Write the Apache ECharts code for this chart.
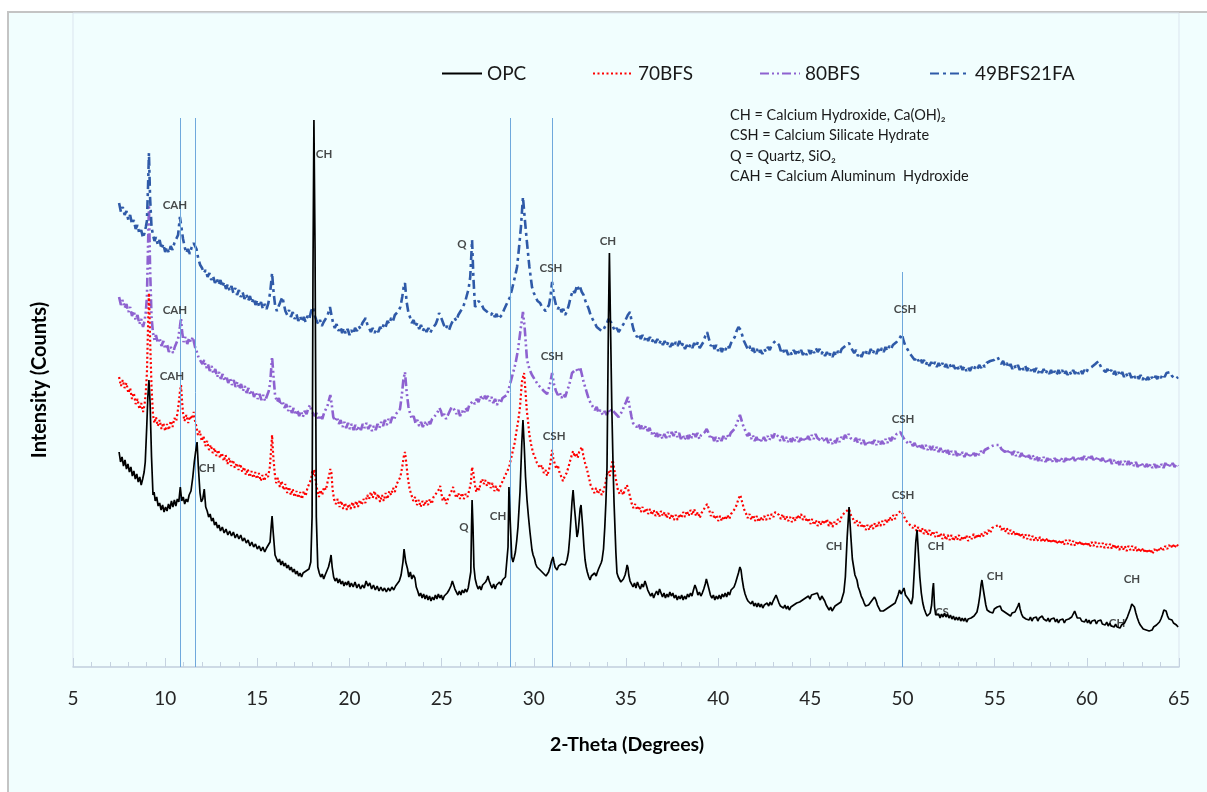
<!DOCTYPE html>
<html>
<head>
<meta charset="utf-8">
<script src="https://cdn.jsdelivr.net/npm/echarts@6/dist/echarts.min.js"></script>
<style>
html,body{margin:0;padding:0;background:#ffffff;}
#chart{width:1207px;height:792px;}
</style>
</head>
<body>
<div id="chart"></div>
<script>
// ---------- data: [2-theta (deg), intensity (arbitrary counts, offset stack)] ----------
const opcData = [
[7.50,215],[7.58,205],[7.66,210],[7.74,201],[7.82,207],[7.90,198],[7.98,203],[8.06,195],[8.14,200],[8.22,191],
[8.30,196],[8.38,188],[8.46,193],[8.54,185],[8.62,190],[8.70,182],[8.78,188],[8.86,195],[8.92,205],[9.00,240],
[9.06,270],[9.12,287],[9.18,265],[9.26,210],[9.34,172],[9.40,175],[9.46,166],[9.54,170],[9.62,161],[9.70,164],
[9.78,157],[9.86,162],[9.94,155],[10.02,160],[10.10,156],[10.18,163],[10.26,158],[10.34,166],[10.42,160],[10.50,167],
[10.58,161],[10.66,168],[10.74,165],[10.82,180],[10.90,166],[10.98,170],[11.06,163],[11.14,168],[11.22,165],[11.30,172],
[11.40,176],[11.50,190],[11.58,205],[11.65,215],[11.73,225],[11.80,200],[11.89,174],[11.96,165],[12.04,168],[12.12,178],
[12.20,160],[12.28,156],[12.36,150],[12.44,153],[12.52,146],[12.60,149],[12.68,142],[12.76,145],[12.84,139],[12.92,142],
[13.00,136],[13.10,140],[13.20,134],[13.30,138],[13.40,132],[13.50,136],[13.60,131],[13.70,135],[13.80,129],[13.90,133],
[14.00,128],[14.10,132],[14.20,126],[14.30,129],[14.40,124],[14.50,127],[14.60,121],[14.70,125],[14.80,120],[14.90,123],
[15.00,118],[15.10,121],[15.20,116],[15.30,120],[15.40,115],[15.50,119],[15.60,117],[15.69,125],[15.75,140],[15.80,151],
[15.86,135],[15.96,112],[16.04,110],[16.12,105],[16.20,108],[16.28,102],[16.36,106],[16.44,101],[16.52,104],[16.60,99],
[16.68,102],[16.76,97],[16.84,100],[16.92,95],[17.00,98],[17.08,93],[17.16,96],[17.24,91],[17.32,94],[17.40,90],
[17.48,94],[17.56,92],[17.64,96],[17.72,94],[17.80,98],[17.90,105],[17.97,150],[18.02,400],[18.07,547],[18.13,420],
[18.20,150],[18.28,100],[18.36,94],[18.44,90],[18.52,93],[18.60,88],[18.68,92],[18.76,94],[18.86,100],[18.94,106],
[19.00,112],[19.06,100],[19.14,90],[19.22,86],[19.30,89],[19.38,84],[19.46,88],[19.54,83],[19.62,86],[19.70,81],
[19.78,85],[19.86,82],[19.94,86],[20.02,80],[20.10,84],[20.20,80],[20.30,85],[20.40,79],[20.50,83],[20.60,78],
[20.70,82],[20.80,79],[20.90,86],[21.00,81],[21.10,84],[21.20,78],[21.30,82],[21.40,77],[21.50,81],[21.60,76],
[21.70,80],[21.80,76],[21.90,79],[22.00,75],[22.10,79],[22.20,76],[22.30,80],[22.40,77],[22.50,81],[22.60,80],
[22.70,86],[22.80,92],[22.90,105],[22.96,118],[23.05,105],[23.15,98],[23.22,90],[23.30,95],[23.38,88],[23.46,92],
[23.55,89],[23.62,80],[23.70,76],[23.78,71],[23.86,74],[23.94,69],[24.02,73],[24.10,68],[24.18,72],[24.26,67],
[24.34,71],[24.42,66],[24.50,70],[24.58,67],[24.66,72],[24.74,68],[24.82,73],[24.90,69],[24.98,72],[25.06,67],
[25.14,71],[25.22,69],[25.30,74],[25.40,77],[25.50,81],[25.58,86],[25.64,84],[25.72,78],[25.80,75],[25.88,72],
[25.96,76],[26.04,72],[26.12,77],[26.20,74],[26.28,78],[26.36,75],[26.44,79],[26.52,78],[26.58,95],[26.62,140],
[26.65,167],[26.70,140],[26.75,100],[26.82,88],[26.90,82],[26.98,78],[27.06,81],[27.14,77],[27.22,82],[27.30,80],
[27.38,85],[27.46,88],[27.51,91],[27.58,86],[27.66,82],[27.74,79],[27.82,83],[27.90,78],[27.98,82],[28.06,80],
[28.14,85],[28.22,82],[28.30,87],[28.38,85],[28.46,90],[28.54,92],[28.60,120],[28.65,180],[28.71,150],[28.80,110],
[28.87,105],[28.94,110],[29.00,115],[29.07,126],[29.14,140],[29.25,175],[29.35,225],[29.41,247],[29.47,225],[29.55,190],
[29.63,167],[29.71,150],[29.79,135],[29.90,117],[29.96,112],[30.04,108],[30.10,103],[30.17,100],[30.25,102],[30.34,97],
[30.42,99],[30.50,94],[30.58,96],[30.66,91],[30.72,90],[30.80,95],[30.88,100],[30.96,106],[31.04,110],[31.10,104],
[31.15,100],[31.20,98],[31.26,97],[31.34,101],[31.42,100],[31.50,103],[31.60,104],[31.70,102],[31.80,107],[31.88,115],
[31.95,130],[32.02,150],[32.07,165],[32.13,177],[32.20,160],[32.25,150],[32.34,130],[32.40,135],[32.45,145],[32.51,158],
[32.56,162],[32.61,150],[32.65,140],[32.72,120],[32.78,107],[32.84,100],[32.90,95],[32.98,90],[33.05,87],[33.12,91],
[33.20,90],[33.30,94],[33.38,91],[33.43,94],[33.51,98],[33.59,100],[33.65,104],[33.70,107],[33.78,118],[33.85,140],
[33.91,165],[33.97,200],[34.05,350],[34.10,414],[34.17,330],[34.23,260],[34.30,200],[34.35,165],[34.40,140],[34.45,115],
[34.51,94],[34.58,90],[34.65,88],[34.72,85],[34.78,84],[34.86,88],[34.95,92],[35.00,96],[35.06,102],[35.11,99],
[35.15,92],[35.22,86],[35.30,83],[35.38,80],[35.46,84],[35.54,79],[35.62,85],[35.70,81],[35.78,78],[35.86,83],
[35.94,80],[36.03,86],[36.10,82],[36.18,77],[36.26,74],[36.34,71],[36.42,74],[36.50,69],[36.58,73],[36.66,76],
[36.74,72],[36.82,78],[36.90,74],[36.98,70],[37.06,74],[37.14,69],[37.22,73],[37.30,70],[37.38,75],[37.46,71],
[37.54,74],[37.62,69],[37.70,72],[37.78,67],[37.86,71],[37.94,68],[38.02,72],[38.10,67],[38.18,71],[38.26,68],
[38.34,73],[38.42,70],[38.50,74],[38.58,71],[38.66,77],[38.74,82],[38.82,78],[38.90,72],[38.98,75],[39.06,71],
[39.14,74],[39.22,78],[39.30,83],[39.36,88],[39.42,86],[39.50,78],[39.58,72],[39.66,69],[39.74,72],[39.82,67],
[39.90,71],[39.98,68],[40.06,72],[40.14,68],[40.22,73],[40.30,70],[40.38,74],[40.46,70],[40.54,75],[40.62,72],
[40.70,77],[40.78,75],[40.86,80],[40.94,84],[41.02,89],[41.10,94],[41.18,100],[41.24,97],[41.30,88],[41.38,79],
[41.46,73],[41.54,69],[41.62,66],[41.70,68],[41.78,63],[41.86,66],[41.94,61],[42.02,64],[42.10,60],[42.18,64],
[42.26,60],[42.34,63],[42.42,59],[42.50,62],[42.58,60],[42.66,64],[42.74,61],[42.82,65],[42.90,62],[42.98,66],
[43.06,68],[43.14,72],[43.22,70],[43.30,64],[43.38,61],[43.46,63],[43.54,59],[43.62,62],[43.70,58],[43.78,61],
[43.86,57],[43.94,60],[44.02,58],[44.10,62],[44.18,60],[44.26,64],[44.34,62],[44.42,65],[44.50,63],[44.58,67],
[44.66,65],[44.74,69],[44.82,67],[44.90,71],[44.98,68],[45.06,72],[45.14,70],[45.22,73],[45.30,71],[45.38,74],
[45.46,70],[45.54,67],[45.62,71],[45.70,72],[45.78,66],[45.86,62],[45.94,60],[46.02,57],[46.10,60],[46.18,56],
[46.26,58],[46.34,61],[46.42,59],[46.50,63],[46.58,61],[46.66,65],[46.74,67],[46.82,75],[46.90,90],[47.00,130],
[47.10,160],[47.20,130],[47.28,108],[47.35,100],[47.42,92],[47.53,87],[47.60,80],[47.68,76],[47.76,71],[47.84,68],
[47.92,64],[48.00,61],[48.08,59],[48.16,62],[48.24,64],[48.32,66],[48.40,68],[48.48,70],[48.56,67],[48.64,62],
[48.72,59],[48.80,56],[48.88,54],[48.96,56],[49.04,54],[49.12,58],[49.20,57],[49.28,60],[49.36,59],[49.44,62],
[49.52,61],[49.60,64],[49.68,66],[49.76,72],[49.84,77],[49.92,73],[50.00,75],[50.08,79],[50.16,72],[50.24,70],
[50.32,68],[50.40,66],[50.48,63],[50.56,70],[50.65,100],[50.72,125],[50.79,137],[50.86,115],[50.94,90],[51.02,74],
[51.10,64],[51.18,58],[51.26,54],[51.34,51],[51.42,50],[51.50,54],[51.58,62],[51.64,78],[51.68,84],[51.74,60],
[51.80,52],[51.88,50],[51.96,53],[52.04,49],[52.12,53],[52.20,50],[52.28,54],[52.36,50],[52.44,53],[52.52,49],
[52.60,52],[52.68,48],[52.76,51],[52.84,47],[52.92,50],[53.00,47],[53.08,50],[53.16,46],[53.24,49],[53.32,46],
[53.40,49],[53.48,45],[53.56,48],[53.64,46],[53.72,49],[53.80,47],[53.88,51],[53.96,50],[54.04,55],[54.12,62],
[54.20,72],[54.26,82],[54.31,87],[54.38,78],[54.45,70],[54.52,62],[54.59,57],[54.66,59],[54.74,55],[54.82,57],
[54.90,54],[54.98,58],[55.06,56],[55.14,60],[55.22,58],[55.30,61],[55.38,57],[55.46,59],[55.54,55],[55.62,57],
[55.70,53],[55.78,55],[55.86,51],[55.94,54],[56.02,52],[56.10,55],[56.18,56],[56.26,61],[56.32,64],[56.38,58],
[56.46,53],[56.54,50],[56.62,52],[56.70,48],[56.78,50],[56.86,47],[56.94,50],[57.02,46],[57.10,49],[57.18,47],
[57.26,50],[57.34,46],[57.42,49],[57.50,47],[57.58,51],[57.66,48],[57.74,50],[57.82,46],[57.90,49],[57.98,45],
[58.06,48],[58.14,46],[58.22,49],[58.30,45],[58.38,48],[58.46,44],[58.54,47],[58.62,45],[58.70,48],[58.78,44],
[58.86,47],[58.94,45],[59.02,48],[59.10,46],[59.18,50],[59.26,53],[59.34,56],[59.40,54],[59.48,49],[59.56,47],
[59.64,49],[59.72,46],[59.80,48],[59.88,45],[59.96,48],[60.04,44],[60.12,47],[60.20,43],[60.28,46],[60.36,44],
[60.44,47],[60.52,43],[60.60,46],[60.68,44],[60.76,47],[60.84,43],[60.92,45],[61.00,42],[61.08,45],[61.16,41],
[61.24,44],[61.32,41],[61.40,43],[61.48,40],[61.56,43],[61.64,40],[61.72,42],[61.80,39],[61.88,42],[61.96,40],
[62.04,44],[62.12,46],[62.20,50],[62.28,54],[62.36,58],[62.44,63],[62.51,65],[62.58,60],[62.66,54],[62.74,49],
[62.82,45],[62.90,42],[62.98,40],[63.06,38],[63.14,40],[63.22,37],[63.30,39],[63.38,36],[63.46,38],[63.54,37],
[63.62,40],[63.70,39],[63.78,42],[63.86,41],[63.94,45],[64.02,48],[64.10,52],[64.18,57],[64.24,59],[64.30,56],
[64.38,51],[64.46,48],[64.54,46],[64.62,47],[64.70,44],[64.78,45],[64.86,42],[64.95,40]
];
const bfs70Data = [
[7.50,290],[7.60,281],[7.70,287],[7.80,279],[7.90,284],[8.00,274],[8.10,279],[8.20,268],[8.30,274],[8.40,263],
[8.50,268],[8.60,258],[8.70,264],[8.80,255],[8.88,262],[8.95,275],[9.01,294],[9.07,340],[9.12,374],[9.18,330],
[9.26,280],[9.34,252],[9.42,244],[9.50,250],[9.60,241],[9.70,247],[9.80,238],[9.90,244],[10.00,236],[10.10,243],
[10.20,237],[10.30,246],[10.40,240],[10.50,249],[10.60,246],[10.70,258],[10.80,275],[10.86,282],[10.92,265],[10.97,254],
[11.05,246],[11.15,252],[11.25,244],[11.35,251],[11.45,248],[11.55,255],[11.62,246],[11.70,240],[11.78,232],[11.88,236],
[11.98,226],[12.08,231],[12.18,221],[12.28,226],[12.38,217],[12.48,222],[12.58,214],[12.68,219],[12.78,211],[12.88,217],
[12.98,209],[13.08,214],[13.18,206],[13.28,212],[13.38,203],[13.48,209],[13.58,201],[13.68,207],[13.78,199],[13.88,204],
[13.98,197],[14.08,203],[14.18,195],[14.28,200],[14.38,192],[14.48,198],[14.58,190],[14.68,196],[14.78,189],[14.88,195],
[14.98,188],[15.08,194],[15.18,186],[15.28,192],[15.38,186],[15.48,193],[15.58,190],[15.68,200],[15.75,218],[15.80,232],
[15.86,212],[15.94,194],[16.02,184],[16.12,189],[16.22,180],[16.32,186],[16.42,177],[16.52,183],[16.62,174],[16.72,180],
[16.82,172],[16.92,178],[17.02,170],[17.12,176],[17.22,169],[17.32,175],[17.42,168],[17.52,176],[17.62,171],[17.72,179],
[17.82,178],[17.92,188],[17.98,196],[18.04,192],[18.10,198],[18.18,184],[18.26,176],[18.34,170],[18.42,177],[18.52,172],
[18.62,180],[18.72,177],[18.82,186],[18.90,192],[18.96,198],[19.02,194],[19.08,178],[19.16,168],[19.26,163],[19.36,168],
[19.46,160],[19.56,166],[19.66,158],[19.76,164],[19.86,157],[19.96,163],[20.06,158],[20.16,165],[20.26,159],[20.36,166],
[20.46,160],[20.56,167],[20.66,162],[20.76,168],[20.86,164],[20.96,172],[21.06,168],[21.16,175],[21.26,169],[21.36,176],
[21.46,168],[21.56,173],[21.66,165],[21.76,172],[21.86,166],[21.96,174],[22.06,168],[22.16,176],[22.26,172],[22.36,179],
[22.46,175],[22.56,183],[22.66,182],[22.76,190],[22.86,200],[22.94,210],[23.01,215],[23.08,204],[23.16,190],[23.26,178],
[23.36,172],[23.46,166],[23.56,170],[23.66,162],[23.76,167],[23.86,160],[23.96,166],[24.06,161],[24.16,167],[24.26,162],
[24.36,168],[24.46,163],[24.56,170],[24.66,168],[24.76,175],[24.86,178],[24.92,181],[24.98,174],[25.06,166],[25.16,170],
[25.26,163],[25.36,169],[25.46,171],[25.56,177],[25.62,180],[25.70,174],[25.80,169],[25.90,174],[26.00,168],[26.10,174],
[26.20,168],[26.30,173],[26.40,170],[26.50,177],[26.58,184],[26.65,200],[26.72,194],[26.80,182],[26.88,175],[26.96,180],
[27.04,177],[27.12,185],[27.20,188],[27.28,183],[27.36,187],[27.46,181],[27.56,186],[27.66,179],[27.76,184],[27.86,176],
[27.96,181],[28.06,175],[28.16,180],[28.26,182],[28.36,188],[28.46,190],[28.56,196],[28.66,200],[28.76,208],[28.87,217],
[28.96,224],[29.05,235],[29.15,246],[29.25,260],[29.35,285],[29.47,294],[29.55,275],[29.62,256],[29.68,247],[29.76,232],
[29.86,222],[29.96,214],[30.06,210],[30.17,204],[30.26,206],[30.34,199],[30.44,202],[30.54,194],[30.64,197],[30.72,191],
[30.82,197],[30.90,204],[30.99,217],[31.06,208],[31.14,203],[31.22,198],[31.30,202],[31.40,194],[31.50,190],[31.58,186],
[31.68,191],[31.78,194],[31.88,200],[31.98,207],[32.06,212],[32.13,216],[32.22,210],[32.30,214],[32.38,209],[32.46,215],
[32.54,213],[32.61,220],[32.68,212],[32.78,204],[32.88,198],[32.98,190],[33.08,182],[33.18,178],[33.28,174],[33.38,179],
[33.48,173],[33.58,178],[33.68,172],[33.78,176],[33.88,183],[33.96,192],[34.04,196],[34.12,191],[34.20,200],[34.28,207],
[34.36,198],[34.45,188],[34.55,178],[34.65,173],[34.75,177],[34.85,172],[34.95,178],[35.05,182],[35.12,180],[35.20,172],
[35.30,164],[35.40,159],[35.50,163],[35.60,157],[35.70,161],[35.80,155],[35.90,160],[36.00,154],[36.10,159],[36.20,153],
[36.30,158],[36.40,152],[36.50,157],[36.60,151],[36.70,156],[36.80,150],[36.90,156],[37.00,151],[37.10,155],[37.20,149],
[37.30,154],[37.40,148],[37.50,153],[37.60,147],[37.70,152],[37.80,147],[37.90,153],[38.00,149],[38.10,155],[38.20,150],
[38.30,156],[38.40,151],[38.50,157],[38.60,152],[38.70,158],[38.80,151],[38.90,155],[39.00,149],[39.10,154],[39.20,156],
[39.30,160],[39.40,163],[39.50,158],[39.60,151],[39.70,155],[39.80,148],[39.90,152],[40.00,146],[40.10,151],[40.20,146],
[40.30,151],[40.40,147],[40.50,152],[40.60,148],[40.70,153],[40.80,152],[40.90,158],[41.00,162],[41.10,168],[41.20,172],
[41.30,165],[41.40,158],[41.50,154],[41.60,149],[41.70,153],[41.80,147],[41.90,152],[42.00,146],[42.10,151],[42.20,145],
[42.30,150],[42.40,146],[42.50,151],[42.60,147],[42.70,152],[42.80,148],[42.90,153],[43.00,150],[43.10,155],[43.20,156],
[43.30,152],[43.40,148],[43.50,153],[43.60,147],[43.70,151],[43.80,146],[43.90,150],[44.00,145],[44.10,150],[44.20,146],
[44.30,152],[44.40,148],[44.50,153],[44.60,147],[44.70,151],[44.80,145],[44.90,149],[45.00,143],[45.10,148],[45.20,142],
[45.30,147],[45.40,141],[45.50,146],[45.60,142],[45.70,147],[45.80,143],[45.90,148],[46.00,141],[46.10,146],[46.20,140],
[46.30,145],[46.40,142],[46.50,148],[46.60,145],[46.70,151],[46.80,150],[46.90,155],[47.00,153],[47.10,158],[47.20,152],
[47.30,149],[47.40,144],[47.50,147],[47.60,141],[47.70,145],[47.80,139],[47.90,143],[48.00,137],[48.10,142],[48.20,137],
[48.30,143],[48.40,138],[48.50,144],[48.60,139],[48.70,145],[48.80,141],[48.90,146],[49.00,142],[49.10,148],[49.20,144],
[49.30,150],[49.40,146],[49.50,152],[49.60,148],[49.70,153],[49.80,151],[49.90,156],[49.97,154],[50.06,152],[50.16,147],
[50.26,149],[50.36,143],[50.46,145],[50.56,139],[50.66,142],[50.76,136],[50.86,140],[50.96,134],[51.06,139],[51.16,133],
[51.26,138],[51.36,132],[51.46,137],[51.56,131],[51.66,136],[51.76,130],[51.86,135],[51.96,129],[52.06,134],[52.16,128],
[52.26,133],[52.36,127],[52.46,132],[52.56,127],[52.66,132],[52.76,126],[52.86,131],[52.96,127],[53.06,132],[53.16,126],
[53.26,131],[53.36,127],[53.46,132],[53.56,126],[53.66,131],[53.76,128],[53.86,133],[53.96,128],[54.06,133],[54.16,129],
[54.26,134],[54.36,130],[54.46,135],[54.56,132],[54.66,137],[54.76,134],[54.86,139],[54.96,137],[55.06,141],[55.16,139],
[55.26,142],[55.36,137],[55.46,140],[55.56,135],[55.66,139],[55.76,133],[55.86,137],[55.96,132],[56.06,136],[56.16,131],
[56.26,135],[56.36,130],[56.46,134],[56.56,129],[56.66,133],[56.76,128],[56.86,132],[56.96,127],[57.06,131],[57.16,126],
[57.26,130],[57.36,126],[57.46,130],[57.56,125],[57.66,129],[57.76,125],[57.86,129],[57.96,124],[58.06,128],[58.16,124],
[58.26,128],[58.36,123],[58.46,127],[58.56,123],[58.66,127],[58.76,122],[58.86,127],[58.96,123],[59.06,127],[59.16,122],
[59.26,126],[59.36,121],[59.46,126],[59.56,122],[59.66,126],[59.76,121],[59.86,125],[59.96,121],[60.06,125],[60.16,120],
[60.26,125],[60.36,121],[60.46,125],[60.56,120],[60.66,124],[60.76,120],[60.86,124],[60.96,119],[61.06,123],[61.16,119],
[61.26,123],[61.36,118],[61.46,123],[61.56,118],[61.66,122],[61.76,117],[61.86,121],[61.96,117],[62.06,121],[62.16,116],
[62.26,121],[62.36,117],[62.46,121],[62.56,116],[62.66,120],[62.76,115],[62.86,119],[62.96,115],[63.06,119],[63.16,114],
[63.26,118],[63.36,114],[63.46,118],[63.56,113],[63.66,118],[63.76,115],[63.86,119],[63.96,116],[64.06,120],[64.16,117],
[64.26,121],[64.36,118],[64.46,122],[64.56,119],[64.66,123],[64.76,119],[64.86,123],[64.95,121]
];
const bfs80Data = [
[7.50,370],[7.60,362],[7.70,367],[7.80,359],[7.90,363],[8.00,355],[8.10,360],[8.20,351],[8.30,356],[8.40,347],
[8.50,352],[8.60,343],[8.70,348],[8.80,340],[8.88,346],[8.95,355],[9.01,370],[9.07,420],[9.12,462],[9.18,400],
[9.26,350],[9.34,334],[9.42,327],[9.50,332],[9.60,324],[9.70,329],[9.80,321],[9.90,326],[10.00,318],[10.10,323],
[10.20,315],[10.30,320],[10.43,314],[10.52,320],[10.62,322],[10.70,328],[10.80,340],[10.86,349],[10.92,335],[11.00,325],
[11.10,330],[11.20,323],[11.30,329],[11.40,325],[11.50,330],[11.62,320],[11.72,315],[11.82,309],[11.92,311],[12.02,303],
[12.12,307],[12.22,299],[12.32,303],[12.42,296],[12.52,301],[12.62,293],[12.72,298],[12.82,290],[12.92,295],[13.02,288],
[13.12,293],[13.22,286],[13.32,291],[13.42,284],[13.52,289],[13.62,282],[13.72,287],[13.82,280],[13.92,285],[14.02,278],
[14.12,283],[14.22,276],[14.32,281],[14.42,274],[14.52,279],[14.62,272],[14.72,277],[14.82,270],[14.92,275],[15.02,268],
[15.12,273],[15.22,267],[15.32,272],[15.42,266],[15.52,271],[15.62,276],[15.70,285],[15.80,310],[15.88,290],[15.96,272],
[16.07,265],[16.17,269],[16.27,262],[16.37,266],[16.47,259],[16.57,263],[16.67,256],[16.77,261],[16.87,254],[16.97,259],
[17.07,252],[17.17,257],[17.27,251],[17.37,256],[17.47,250],[17.57,256],[17.67,253],[17.77,259],[17.86,262],[17.94,256],
[18.02,258],[18.12,251],[18.22,254],[18.32,247],[18.42,252],[18.52,248],[18.62,254],[18.72,256],[18.82,262],[18.90,268],
[18.96,272],[19.04,262],[19.12,250],[19.22,246],[19.32,250],[19.42,243],[19.52,247],[19.62,240],[19.72,245],[19.82,239],
[19.92,244],[20.02,238],[20.12,243],[20.22,237],[20.32,242],[20.42,236],[20.52,241],[20.62,237],[20.72,243],[20.82,239],
[20.92,244],[21.02,238],[21.12,242],[21.22,236],[21.32,241],[21.42,237],[21.52,243],[21.62,239],[21.72,245],[21.82,241],
[21.92,247],[22.02,242],[22.12,248],[22.22,244],[22.32,250],[22.42,247],[22.52,253],[22.62,252],[22.74,258],[22.84,272],
[22.92,287],[23.01,295],[23.10,275],[23.20,260],[23.28,254],[23.38,248],[23.48,251],[23.58,244],[23.68,247],[23.78,241],
[23.88,245],[23.98,240],[24.08,245],[24.18,241],[24.28,246],[24.38,243],[24.48,248],[24.58,246],[24.68,252],[24.78,255],
[24.88,259],[24.96,256],[25.04,250],[25.14,253],[25.24,248],[25.34,252],[25.44,256],[25.54,260],[25.62,262],[25.70,257],
[25.80,253],[25.90,257],[26.00,251],[26.10,256],[26.20,253],[26.30,259],[26.40,256],[26.50,262],[26.60,260],[26.70,266],
[26.80,263],[26.90,268],[27.00,265],[27.10,271],[27.20,267],[27.30,272],[27.40,268],[27.50,271],[27.60,266],[27.70,270],
[27.80,264],[27.90,268],[28.00,262],[28.10,267],[28.20,264],[28.30,269],[28.40,267],[28.54,272],[28.70,282],[28.87,294],
[29.00,303],[29.14,317],[29.30,340],[29.41,355],[29.50,340],[29.63,307],[29.76,298],[29.90,292],[30.00,290],[30.10,286],
[30.20,283],[30.34,280],[30.44,281],[30.54,276],[30.64,278],[30.72,273],[30.82,279],[30.90,285],[30.99,294],[31.10,282],
[31.20,276],[31.30,272],[31.40,275],[31.50,269],[31.60,273],[31.70,270],[31.80,276],[31.90,281],[32.00,288],[32.07,294],
[32.17,292],[32.30,298],[32.40,295],[32.51,300],[32.60,293],[32.70,285],[32.80,279],[32.88,274],[32.98,268],[33.08,264],
[33.21,260],[33.31,257],[33.41,260],[33.51,254],[33.61,257],[33.75,252],[33.85,256],[33.95,252],[34.05,257],[34.13,254],
[34.22,258],[34.30,260],[34.40,254],[34.50,256],[34.60,250],[34.70,253],[34.80,256],[34.90,261],[35.00,265],[35.11,270],
[35.20,260],[35.30,250],[35.38,244],[35.48,246],[35.58,240],[35.68,243],[35.78,238],[35.88,242],[35.98,237],[36.08,241],
[36.18,236],[36.28,239],[36.38,233],[36.48,236],[36.58,230],[36.68,234],[36.78,229],[36.88,233],[36.98,228],[37.08,233],
[37.18,229],[37.28,235],[37.38,230],[37.48,235],[37.58,231],[37.68,236],[37.78,230],[37.88,234],[37.98,228],[38.08,232],
[38.18,227],[38.28,232],[38.38,228],[38.48,233],[38.58,229],[38.68,235],[38.78,230],[38.88,234],[38.98,228],[39.08,232],
[39.18,230],[39.28,235],[39.38,238],[39.48,234],[39.58,228],[39.68,232],[39.78,226],[39.88,230],[39.98,225],[40.08,230],
[40.18,226],[40.28,231],[40.38,227],[40.48,232],[40.58,229],[40.68,234],[40.78,233],[40.88,238],[40.98,242],[41.08,247],
[41.18,252],[41.28,246],[41.38,240],[41.48,236],[41.58,231],[41.68,234],[41.78,228],[41.88,232],[41.98,226],[42.08,230],
[42.18,225],[42.28,229],[42.38,225],[42.48,230],[42.58,226],[42.68,231],[42.78,227],[42.88,232],[42.98,229],[43.08,234],
[43.18,235],[43.28,230],[43.38,226],[43.48,231],[43.58,226],[43.68,230],[43.78,225],[43.88,229],[43.98,225],[44.08,230],
[44.18,226],[44.28,230],[44.38,225],[44.48,229],[44.58,225],[44.68,230],[44.78,226],[44.88,231],[44.98,227],[45.08,232],
[45.18,228],[45.28,233],[45.38,229],[45.48,231],[45.58,226],[45.68,230],[45.78,225],[45.88,229],[45.98,224],[46.08,228],
[46.18,223],[46.28,227],[46.38,224],[46.48,229],[46.58,225],[46.68,230],[46.78,227],[46.88,232],[46.98,229],[47.08,233],
[47.18,229],[47.28,231],[47.38,226],[47.48,229],[47.58,224],[47.68,228],[47.78,223],[47.88,227],[47.98,222],[48.08,226],
[48.18,222],[48.28,227],[48.38,223],[48.48,227],[48.58,222],[48.68,226],[48.78,222],[48.88,226],[48.98,223],[49.08,228],
[49.18,224],[49.28,229],[49.38,226],[49.48,231],[49.58,228],[49.68,233],[49.78,231],[49.88,235],[49.96,232],[50.06,230],
[50.16,226],[50.26,228],[50.36,223],[50.46,226],[50.56,221],[50.66,224],[50.76,219],[50.86,223],[50.96,218],[51.06,222],
[51.16,218],[51.26,222],[51.36,217],[51.46,221],[51.56,217],[51.66,221],[51.76,216],[51.86,220],[51.96,215],[52.06,219],
[52.16,214],[52.26,218],[52.36,213],[52.46,217],[52.56,212],[52.66,216],[52.76,212],[52.86,216],[52.96,211],[53.06,215],
[53.16,211],[53.26,215],[53.36,210],[53.46,214],[53.56,210],[53.66,214],[53.76,210],[53.86,214],[53.96,211],[54.06,215],
[54.16,212],[54.26,216],[54.36,213],[54.46,217],[54.56,215],[54.66,219],[54.76,217],[54.86,221],[54.96,219],[55.06,222],
[55.16,220],[55.26,222],[55.36,218],[55.46,220],[55.56,215],[55.66,218],[55.76,213],[55.86,217],[55.96,212],[56.06,216],
[56.16,211],[56.26,215],[56.36,210],[56.46,214],[56.56,209],[56.66,213],[56.76,208],[56.86,212],[56.96,208],[57.06,212],
[57.16,207],[57.26,211],[57.36,206],[57.46,210],[57.56,206],[57.66,210],[57.76,205],[57.86,209],[57.96,205],[58.06,209],
[58.16,205],[58.26,209],[58.36,205],[58.46,209],[58.56,205],[58.66,209],[58.76,205],[58.86,209],[58.96,205],[59.06,210],
[59.16,206],[59.26,210],[59.36,206],[59.46,210],[59.56,206],[59.66,211],[59.76,207],[59.86,211],[59.96,207],[60.06,211],
[60.16,207],[60.26,211],[60.36,207],[60.46,210],[60.56,206],[60.66,210],[60.76,206],[60.86,209],[60.96,204],[61.06,208],
[61.16,204],[61.26,208],[61.36,203],[61.46,207],[61.56,203],[61.66,207],[61.76,202],[61.86,206],[61.96,202],[62.06,206],
[62.16,202],[62.26,206],[62.36,201],[62.46,205],[62.56,201],[62.66,205],[62.76,200],[62.86,204],[62.96,200],[63.06,204],
[63.16,200],[63.26,203],[63.36,199],[63.46,203],[63.56,199],[63.66,203],[63.76,199],[63.86,203],[63.96,199],[64.06,203],
[64.16,199],[64.26,204],[64.36,200],[64.46,204],[64.56,200],[64.66,204],[64.76,200],[64.86,203],[64.95,201]
];
const fa49Data = [
[7.50,464],[7.60,455],[7.70,460],[7.80,452],[7.90,456],[8.00,447],[8.10,452],[8.20,443],[8.30,447],[8.40,438],
[8.50,442],[8.60,433],[8.70,437],[8.80,429],[8.88,434],[8.95,440],[9.01,446],[9.07,480],[9.12,514],[9.18,470],
[9.26,440],[9.34,432],[9.42,426],[9.50,430],[9.60,422],[9.70,427],[9.80,418],[9.90,423],[10.00,415],[10.10,420],
[10.20,414],[10.30,421],[10.40,417],[10.50,424],[10.60,422],[10.70,432],[10.80,450],[10.88,440],[10.97,428],[11.06,420],
[11.14,414],[11.24,418],[11.34,413],[11.44,420],[11.54,424],[11.62,426],[11.70,418],[11.80,408],[11.90,402],[12.00,399],
[12.10,394],[12.20,397],[12.30,390],[12.40,394],[12.50,387],[12.60,391],[12.70,384],[12.80,389],[12.90,382],[13.00,387],
[13.10,380],[13.20,385],[13.30,378],[13.40,383],[13.50,376],[13.60,381],[13.70,374],[13.80,379],[13.90,372],[14.00,377],
[14.10,370],[14.20,375],[14.30,368],[14.40,373],[14.50,366],[14.60,371],[14.70,364],[14.80,369],[14.90,362],[15.00,367],
[15.10,360],[15.20,365],[15.30,358],[15.40,363],[15.50,358],[15.60,364],[15.70,375],[15.80,394],[15.88,375],[15.96,362],
[16.06,356],[16.16,361],[16.26,360],[16.36,370],[16.44,363],[16.52,356],[16.62,352],[16.72,357],[16.82,350],[16.92,355],
[17.02,348],[17.12,353],[17.22,346],[17.32,351],[17.42,345],[17.52,350],[17.62,345],[17.72,351],[17.82,348],[17.92,356],
[18.02,360],[18.10,352],[18.20,347],[18.30,343],[18.40,347],[18.50,341],[18.60,345],[18.70,344],[18.80,351],[18.88,356],
[18.94,360],[19.02,352],[19.11,344],[19.20,339],[19.30,343],[19.40,336],[19.50,340],[19.60,334],[19.70,339],[19.80,333],
[19.90,338],[20.00,332],[20.10,337],[20.20,333],[20.30,339],[20.40,336],[20.50,341],[20.60,338],[20.70,344],[20.80,346],
[20.88,349],[20.96,343],[21.06,339],[21.16,335],[21.26,339],[21.36,334],[21.46,338],[21.56,335],[21.66,340],[21.76,337],
[21.86,343],[21.96,340],[22.06,346],[22.16,343],[22.26,349],[22.36,346],[22.46,352],[22.56,350],[22.66,356],[22.76,360],
[22.86,370],[22.94,380],[23.01,384],[23.10,365],[23.20,354],[23.28,350],[23.38,344],[23.48,347],[23.58,340],[23.68,344],
[23.78,338],[23.88,342],[23.98,336],[24.08,340],[24.18,335],[24.28,339],[24.38,334],[24.48,338],[24.58,337],[24.68,343],
[24.78,348],[24.86,354],[24.92,355],[25.00,348],[25.10,343],[25.20,338],[25.30,341],[25.40,337],[25.50,342],[25.60,346],
[25.70,349],[25.80,346],[25.90,352],[26.00,355],[26.10,358],[26.20,362],[26.30,367],[26.37,372],[26.46,378],[26.55,390],
[26.65,427],[26.72,390],[26.81,360],[26.90,362],[27.00,366],[27.08,367],[27.18,362],[27.28,358],[27.38,360],[27.48,355],
[27.58,357],[27.68,352],[27.78,355],[27.88,350],[27.98,353],[28.08,348],[28.16,347],[28.26,352],[28.40,358],[28.50,362],
[28.60,366],[28.71,370],[28.82,378],[28.92,386],[29.00,392],[29.09,400],[29.20,420],[29.30,440],[29.41,470],[29.50,450],
[29.63,424],[29.76,400],[29.90,380],[30.00,374],[30.10,370],[30.20,366],[30.34,364],[30.44,360],[30.54,358],[30.64,356],
[30.72,355],[30.82,362],[30.90,370],[30.99,385],[31.10,370],[31.20,362],[31.30,358],[31.40,361],[31.50,355],[31.60,358],
[31.70,352],[31.80,356],[31.90,362],[32.00,370],[32.13,377],[32.22,374],[32.35,382],[32.44,377],[32.51,380],[32.60,375],
[32.70,372],[32.80,366],[32.88,364],[32.98,358],[33.08,352],[33.21,347],[33.31,344],[33.41,340],[33.51,342],[33.61,337],
[33.75,336],[33.85,340],[33.95,343],[34.05,348],[34.13,350],[34.22,344],[34.30,340],[34.40,336],[34.50,339],[34.60,335],
[34.70,338],[34.78,340],[34.90,344],[35.00,348],[35.10,352],[35.22,355],[35.30,346],[35.40,338],[35.50,333],[35.60,330],
[35.70,333],[35.80,328],[35.90,332],[36.00,327],[36.10,331],[36.20,326],[36.30,330],[36.40,325],[36.50,329],[36.60,324],
[36.70,328],[36.80,323],[36.90,327],[37.00,322],[37.10,326],[37.20,321],[37.30,325],[37.40,320],[37.50,324],[37.60,320],
[37.70,325],[37.80,321],[37.90,326],[38.00,320],[38.10,324],[38.20,318],[38.30,322],[38.40,318],[38.50,323],[38.60,319],
[38.70,324],[38.80,320],[38.90,325],[39.00,319],[39.10,322],[39.20,325],[39.30,331],[39.40,335],[39.50,328],[39.60,321],
[39.70,324],[39.80,318],[39.90,322],[40.00,316],[40.10,320],[40.20,315],[40.30,320],[40.40,317],[40.50,322],[40.60,319],
[40.70,324],[40.80,326],[40.90,330],[41.00,336],[41.10,340],[41.15,342],[41.22,337],[41.30,332],[41.40,326],[41.50,322],
[41.60,318],[41.70,321],[41.80,315],[41.90,319],[42.00,314],[42.10,318],[42.20,313],[42.30,317],[42.40,313],[42.50,318],
[42.60,315],[42.70,320],[42.80,317],[42.90,322],[43.00,321],[43.10,326],[43.20,328],[43.30,322],[43.40,316],[43.50,319],
[43.60,313],[43.70,317],[43.80,312],[43.90,316],[44.00,312],[44.10,317],[44.20,313],[44.30,318],[44.40,313],[44.50,317],
[44.60,312],[44.70,316],[44.80,312],[44.90,317],[45.00,313],[45.10,318],[45.20,314],[45.30,319],[45.40,315],[45.50,318],
[45.60,313],[45.70,316],[45.80,311],[45.90,315],[46.00,310],[46.10,314],[46.20,310],[46.30,315],[46.40,311],[46.50,316],
[46.60,313],[46.70,318],[46.80,317],[46.90,321],[47.00,320],[47.10,324],[47.18,322],[47.28,317],[47.38,314],[47.48,317],
[47.58,311],[47.68,314],[47.78,310],[47.88,315],[47.98,312],[48.08,317],[48.18,313],[48.28,318],[48.38,313],[48.48,317],
[48.58,313],[48.68,318],[48.78,314],[48.88,319],[48.98,315],[49.08,320],[49.18,316],[49.28,321],[49.38,318],[49.48,322],
[49.58,321],[49.68,325],[49.78,326],[49.88,330],[49.97,333],[50.06,326],[50.16,321],[50.26,318],[50.36,315],[50.46,312],
[50.56,310],[50.66,307],[50.76,310],[50.86,306],[50.96,309],[51.06,304],[51.16,307],[51.26,302],[51.36,306],[51.46,301],
[51.56,305],[51.66,301],[51.76,305],[51.86,300],[51.96,304],[52.06,300],[52.16,304],[52.26,299],[52.36,303],[52.46,299],
[52.56,303],[52.66,298],[52.76,302],[52.86,298],[52.96,302],[53.06,297],[53.16,301],[53.26,297],[53.36,301],[53.46,296],
[53.56,300],[53.66,296],[53.76,300],[53.86,297],[53.96,301],[54.06,298],[54.16,302],[54.26,299],[54.36,303],[54.46,300],
[54.56,304],[54.66,302],[54.76,306],[54.86,304],[54.96,307],[55.06,306],[55.16,310],[55.26,306],[55.36,303],[55.46,306],
[55.56,301],[55.66,304],[55.76,299],[55.86,303],[55.96,298],[56.06,302],[56.16,298],[56.26,302],[56.36,297],[56.46,301],
[56.56,297],[56.66,301],[56.76,296],[56.86,300],[56.96,296],[57.06,300],[57.16,295],[57.26,299],[57.36,294],[57.46,298],
[57.56,294],[57.66,298],[57.76,293],[57.86,297],[57.96,293],[58.06,297],[58.16,292],[58.26,296],[58.36,292],[58.46,297],
[58.56,293],[58.66,297],[58.76,292],[58.86,296],[58.96,292],[59.06,296],[59.16,292],[59.26,297],[59.36,293],[59.46,297],
[59.56,293],[59.66,297],[59.76,293],[59.86,297],[59.96,294],[60.06,298],[60.16,296],[60.26,300],[60.36,299],[60.46,303],
[60.56,304],[60.64,306],[60.72,302],[60.82,298],[60.92,300],[61.02,295],[61.12,298],[61.22,294],[61.32,297],[61.42,292],
[61.52,296],[61.62,291],[61.72,295],[61.82,291],[61.92,295],[62.02,290],[62.12,294],[62.22,290],[62.32,294],[62.42,289],
[62.52,293],[62.62,289],[62.72,292],[62.82,288],[62.92,292],[63.02,287],[63.12,291],[63.22,287],[63.32,290],[63.42,286],
[63.52,290],[63.62,287],[63.72,291],[63.82,288],[63.92,292],[64.02,289],[64.12,293],[64.22,290],[64.32,294],[64.42,292],
[64.52,295],[64.62,291],[64.72,293],[64.82,288],[64.95,290]
];
// reference lines: [2-theta, top intensity]
const refLines = [[10.82,549],[11.65,549],[28.70,549],[30.98,549],[50.0,395]];
// peak annotations: [2-theta, intensity, text, behindCurve]
const peakLabels = [
[18.62,513,'CH',0],[10.53,462,'CAH',0],[10.53,357,'CAH',0],[10.37,291,'CAH',0],[12.27,199,'CH',0],
[26.10,423,'Q',0],[30.93,399,'CSH',0],[34.02,426,'CH',0],[30.99,311,'CSH',0],[31.10,231,'CSH',0],
[26.21,140,'Q',0],[28.06,151,'CH',0],[50.14,358,'CSH',0],[50.03,248,'CSH',0],[50.03,172,'CSH',0],
[46.29,121,'CH',0],[51.82,121,'CH',0],[55.02,91,'CH',0],[62.45,88,'CH',0],[52.14,55,'CS',1],[61.64,44,'CH',1]
];
const seriesNames = ['OPC','70BFS','80BFS','49BFS21FA'];
const legendLeft = [441,592,759,929];
const keyLines = [
'CH = Calcium Hydroxide, Ca(OH)\u2082',
'CSH = Calcium Silicate Hydrate',
'Q = Quartz, SiO\u2082',
'CAH = Calcium Aluminum  Hydroxide'
];

const chart = echarts.init(document.getElementById('chart'), null, {renderer:'canvas'});
const FONT = 'Lato, "Open Sans", sans-serif';

function labelSeries(behind){
  return {
    type:'scatter', symbolSize:0, silent:true, z: behind ? 1 : 10,
    data: peakLabels.filter(p=>p[3]===behind).map(p=>({value:[p[0],p[1]], name:p[2]})),
    label:{show:true, position:'inside', formatter:'{b}', fontFamily:FONT, fontSize:11.5, fontWeight:'bold', color:'#1a1a1a'}
  };
}

const option = {
  animation:false,
  backgroundColor:'#ffffff',
  graphic:[
    {type:'rect', z:-100, shape:{x:8,y:12,width:1220,height:800}, style:{fill:'#f1fefe', stroke:'#c4c4c4', lineWidth:2}},
    {type:'text', z:50, left:730, top:105, style:{text:keyLines.join('\n'), fontFamily:FONT, fontSize:14.5, lineHeight:20.5, fill:'#1a1a1a'}},
    {type:'text', z:50, x:627, y:745, style:{text:'2-Theta (Degrees)', fontFamily:FONT, fontSize:19.5, fontWeight:'bold', fill:'#000', align:'center', verticalAlign:'middle'}},
    {type:'text', z:50, x:40, y:380, rotation:Math.PI/2, style:{text:'Intensity (Counts)', fontFamily:FONT, fontSize:20, fontWeight:'bold', fill:'#000', align:'center', verticalAlign:'middle'}}
  ],
  legend: seriesNames.map((n,i)=>({
    data:[n], left:legendLeft[i], top:64, padding:0, itemWidth:40, itemHeight:14, itemGap:0,
    itemStyle:{opacity:0},
    textStyle:{fontFamily:FONT, fontSize:19, color:'#1a1a1a'}
  })),
  grid:{left:73, right:28, top:13, bottom:125, show:true, borderColor:'#dbe5ef', borderWidth:1, backgroundColor:'transparent'},
  xAxis:{
    type:'value', min:5, max:65, interval:5,
    axisLine:{show:true, lineStyle:{color:'#c5d2e0', width:1.5}},
    axisTick:{show:true, inside:true, length:9, lineStyle:{color:'#c5d2e0'}},
    minorTick:{show:true, splitNumber:5, length:5, lineStyle:{color:'#c5d2e0'}},
    splitLine:{show:false},
    axisLabel:{margin:22, fontFamily:FONT, fontSize:19, color:'#262626'}
  },
  yAxis:{
    type:'value', min:0, max:654,
    axisLine:{show:false}, axisTick:{show:false}, axisLabel:{show:false}, splitLine:{show:false}
  },
  series:[
    {name:'OPC', type:'line', data:opcData, symbol:'none', z:5,
      lineStyle:{color:'#000000', width:1.7}, itemStyle:{color:'#000000'}},
    {name:'70BFS', type:'line', data:bfs70Data, symbol:'none', z:4,
      lineStyle:{color:'#ff0000', width:2.2, type:[2,2.5]}, itemStyle:{color:'#ff0000'}},
    {name:'80BFS', type:'line', data:bfs80Data, symbol:'none', z:3,
      lineStyle:{color:'#8e62d0', width:2.6, type:[9,3,2,3,2,3]}, itemStyle:{color:'#8e62d0'}},
    {name:'49BFS21FA', type:'line', data:fa49Data, symbol:'none', z:3,
      lineStyle:{color:'#2f5aa8', width:2.6, type:[9,4,3,4]}, itemStyle:{color:'#2f5aa8'}},
    {name:'refLines', type:'line', data:[], silent:true, z:2,
      markLine:{silent:true, symbol:['none','none'], label:{show:false}, animation:false,
        lineStyle:{color:'#6fa8dc', width:1, type:'solid'},
        data: refLines.map(r=>[{coord:[r[0],r[1]]},{coord:[r[0],0]}])}},
    labelSeries(0),
    labelSeries(1)
  ]
};
chart.setOption(option);
</script>
</body>
</html>
